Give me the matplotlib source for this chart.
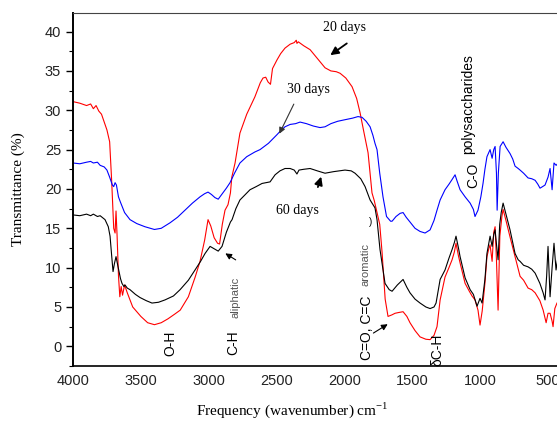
import matplotlib
matplotlib.use("Agg")
import matplotlib.pyplot as plt
import numpy as np

# FTIR spectra: wavenumber (cm-1) and transmittance (%)
wn_20 = [4000, 3950, 3900, 3870, 3850, 3830, 3810, 3790, 3770, 3750, 3730, 3715, 3700,
         3690, 3683, 3675, 3665, 3655, 3645, 3635, 3620, 3600, 3560, 3500, 3450, 3400,
         3350, 3300, 3250, 3210, 3150, 3100, 3064, 3030, 3005, 2985, 2960, 2935, 2920,
         2900, 2880, 2858, 2840, 2830, 2806, 2770, 2720, 2660, 2620, 2600, 2580, 2563,
         2545, 2530, 2497, 2470, 2438, 2400, 2370, 2355, 2350, 2340, 2300, 2253, 2200,
         2143, 2100, 2060, 2032, 1990, 1944, 1910, 1885, 1860, 1826, 1797, 1780, 1760,
         1740, 1723, 1700, 1679, 1650, 1627, 1600, 1568, 1540, 1517, 1480, 1443, 1400,
         1369, 1340, 1318, 1295, 1259, 1230, 1207, 1190, 1178, 1160, 1148, 1111, 1080,
         1060, 1038, 1016, 1001, 985, 965, 950, 935, 927, 912, 900, 890, 880, 868, 855,
         840, 831, 810, 780, 743, 706, 680, 647, 620, 595, 560, 536, 514, 500, 485, 470,
         463, 450, 434]
t_20 = [31.1, 30.9, 30.6, 30.8, 30.2, 30.6, 29.9, 29.5, 28.5, 27.5, 26.0, 21.0, 15.0,
        14.4, 17.2, 14.0, 9.0, 6.3, 7.6, 6.5, 7.8, 6.8, 5.0, 3.8, 3.0, 2.75,
        3.0, 3.5, 4.1, 4.6, 6.3, 8.8, 10.8, 13.5, 16.1, 15.3, 13.8, 13.1, 13.0,
        15.5, 17.3, 18.0, 19.5, 21.5, 23.3, 27.1, 29.5, 31.7, 33.5, 34.1, 34.2, 33.6,
        33.3, 35.3, 36.4, 37.2, 37.9, 38.4, 38.6, 38.9, 38.5, 38.7, 38.2, 37.7, 36.6,
        35.4, 35.0, 34.9, 34.7, 34.1, 33.0, 31.5, 29.7, 27.5, 24.6, 19.5, 18.5, 17.0,
        15.5, 12.0, 6.0, 3.8, 4.0, 4.2, 4.3, 4.4, 3.8, 3.0, 2.0, 1.2, 0.9,
        0.85, 1.4, 2.5, 5.9, 8.8, 10.0, 11.0, 12.0, 13.1, 11.5, 10.6, 8.0, 7.0,
        6.4, 5.9, 4.6, 2.7, 4.5, 8.0, 11.4, 12.5, 12.9, 10.8, 14.5, 15.2, 11.0, 4.6, 14.0,
        16.5, 17.4, 16.0, 13.9, 11.4, 8.9, 8.4, 7.4, 7.2, 6.8, 5.8, 4.6, 3.0, 4.2, 4.2, 3.2,
        2.5, 4.8, 5.5]

wn_30 = [4000, 3950, 3900, 3870, 3850, 3820, 3800, 3770, 3750, 3730, 3710, 3700, 3690,
         3680, 3665, 3650, 3620, 3580, 3530, 3470, 3400, 3350, 3285, 3230, 3175, 3120,
         3064, 3030, 3005, 2980, 2954, 2930, 2900, 2870, 2843, 2810, 2770, 2720, 2660,
         2622, 2560, 2497, 2470, 2438, 2400, 2360, 2327, 2280, 2230, 2180, 2143, 2100,
         2050, 1996, 1940, 1900, 1870, 1840, 1811, 1790, 1775, 1760, 1740, 1716, 1690,
         1660, 1649, 1620, 1590, 1568, 1545, 1517, 1480, 1443, 1406, 1369, 1340, 1318,
         1295, 1259, 1230, 1207, 1185, 1170, 1148, 1111, 1074, 1050, 1038, 1016, 995,
         979, 965, 950, 927, 912, 900, 890, 880, 875, 866, 853, 831, 810, 780, 760, 743,
         720, 706, 680, 647, 620, 595, 575, 559, 540, 522, 500, 485, 470, 456, 440, 430]
t_30 = [23.3, 23.2, 23.4, 23.5, 23.3, 23.4, 23.0, 22.8, 22.4, 21.5, 20.5, 20.3, 20.8,
        20.5, 19.0, 18.3, 17.0, 16.1, 15.6, 15.2, 14.85, 15.0, 15.7, 16.4, 17.3, 18.2,
        19.0, 19.4, 19.6, 19.3, 18.9, 18.7, 19.4, 20.1, 20.8, 22.0, 23.3, 24.1, 24.7,
        25.0, 25.8, 26.9, 27.4, 27.9, 28.2, 28.3, 28.5, 28.3, 28.0, 27.8, 27.9, 28.3,
        28.6, 28.8, 29.0, 29.2, 29.1, 28.6, 27.9, 26.8, 25.8, 25.0, 22.0, 19.0, 16.5,
        15.9, 15.9, 16.5, 16.9, 17.0, 16.4, 15.8, 15.0, 14.6, 14.4, 14.8, 16.0, 17.3,
        18.6, 19.9, 20.6, 21.2, 21.8, 21.0, 19.9, 19.0, 18.2, 17.4, 16.5, 17.3, 19.0,
        20.7, 22.5, 24.1, 25.0, 23.9, 25.0, 25.4, 22.0, 17.3, 22.0, 25.4, 26.0, 25.3, 24.5, 23.8, 22.9,
        22.6, 22.4, 22.0, 21.4, 21.3, 21.1, 20.6, 20.1, 20.3, 20.5, 21.5, 22.6, 19.9, 23.3, 23.0, 23.2]

wn_60 = [4000, 3950, 3900, 3870, 3850, 3820, 3800, 3764, 3740, 3727, 3715, 3705, 3695,
         3683, 3668, 3650, 3639, 3625, 3617, 3600, 3580, 3540, 3506, 3460, 3418, 3370,
         3322, 3260, 3211, 3150, 3101, 3060, 3027, 2990, 2960, 2930, 2902, 2870, 2840,
         2828, 2800, 2770, 2730, 2696, 2650, 2607, 2548, 2511, 2475, 2438, 2400, 2370,
         2350, 2335, 2300, 2253, 2200, 2143, 2080, 1996, 1950, 1922, 1880, 1848, 1811,
         1775, 1760, 1738, 1701, 1670, 1649, 1610, 1568, 1540, 1517, 1480, 1443, 1400,
         1369, 1340, 1325, 1295, 1259, 1230, 1207, 1190, 1178, 1160, 1148, 1111, 1074,
         1050, 1023, 1001, 986, 965, 950, 927, 912, 900, 890, 880, 868, 856, 845, 831,
         810, 780, 743, 720, 706, 680, 647, 620, 595, 560, 536, 522, 510, 500, 485, 470,
         456, 441, 430]
t_60 = [16.7, 16.6, 16.8, 16.6, 16.8, 16.5, 16.6, 16.1, 15.2, 14.0, 11.5, 9.5, 10.5,
        11.4, 10.1, 8.6, 8.0, 7.6, 7.8, 7.4, 7.2, 6.6, 6.2, 5.8, 5.5, 5.6,
        5.9, 6.4, 7.2, 8.4, 9.7, 10.8, 11.8, 12.7, 12.4, 12.1, 12.7, 14.5, 15.8,
        16.1, 17.5, 18.6, 19.3, 19.9, 20.3, 20.7, 20.9, 21.8, 22.3, 22.6, 22.6, 22.4,
        21.9, 22.4, 22.5, 22.6, 22.3, 22.0, 22.2, 22.4, 22.3, 22.0, 21.3, 20.3, 18.6,
        17.6, 16.1, 12.3, 8.0, 7.2, 7.0, 7.8, 8.5, 7.5, 6.8, 6.0, 5.5, 5.0,
        4.8, 5.0, 5.5, 8.5, 9.7, 11.2, 12.3, 13.2, 14.0, 12.5, 11.4, 8.7, 7.2,
        6.6, 5.1, 6.1, 5.5, 8.5, 11.8, 14.0, 12.7, 14.2, 14.8, 13.0, 11.0, 15.5, 17.0, 18.2,
        16.8, 14.8, 11.8, 11.0, 10.8, 10.3, 10.1, 9.8, 9.3, 8.0, 6.8, 5.9, 9.0, 12.7, 6.3, 10.0,
        13.1, 9.7, 11.0]

x_ticks = [4000, 3500, 3000, 2500, 2000, 1500, 1000, 500]
y_ticks = [0, 5, 10, 15, 20, 25, 30, 35, 40]

sans = "Liberation Sans"
serif = "Liberation Serif"

fig = plt.figure(figsize=(5.57, 4.21), dpi=100)
# the axes run slightly past the right edge, as in the cropped original
ax = fig.add_axes([73 / 557, 55 / 421, 488.6 / 557, 353.3 / 421])

ax.plot(wn_20, t_20, color="#ff0000", lw=0.8)
ax.plot(wn_30, t_30, color="#0000ff", lw=0.8)
ax.plot(wn_60, t_60, color="black", lw=0.8)

ax.set_xlim(4000, 400)
ax.set_ylim(-2.5, 42.4)
ax.set_xticks(x_ticks)
ax.set_yticks(y_ticks)
ax.set_yticks(np.arange(-2.5, 42.5, 5), minor=True)
ax.tick_params(axis="x", length=0, pad=6, labelsize=10.5, labelcolor="#222222")
ax.tick_params(axis="y", which="major", direction="out", length=5, width=1,
               labelsize=10.5, labelcolor="#222222")
ax.tick_params(axis="y", which="minor", direction="out", length=3, width=0.8)
for lab in ax.get_xticklabels() + ax.get_yticklabels():
    lab.set_family(sans)

ax.spines["left"].set_linewidth(1.4)
ax.spines["bottom"].set_linewidth(1.2)
ax.spines["top"].set_linewidth(0.8)
ax.spines["top"].set_color("#444444")
ax.spines["right"].set_visible(False)

fig.text(18 / 557, 1 - 189 / 421, "Transmittance (%)", rotation=90, ha="center",
         va="center", family=serif, fontsize=11)
fig.text(292 / 557, 1 - 410 / 421, "Frequency (wavenumber) cm$^{\\mathregular{-1}}$",
         ha="center", va="center", family=serif, fontsize=11)

# sample labels with arrows
arrow_kw = dict(arrowstyle="-|>", color="black", lw=1.3, mutation_scale=12)
ax.text(1996, 40.5, "20 days", ha="center", va="center", family=serif, fontsize=10)
ax.annotate("", xy=(2121, 36.8), xytext=(1966, 38.7), arrowprops=arrow_kw)
ax.text(2268, 32.6, "30 days", ha="center", va="center", family=serif, fontsize=10)
ax.annotate("", xy=(2489, 26.7), xytext=(2364, 31.1),
            arrowprops=dict(arrowstyle="-|>", color="#333333", lw=0.8, mutation_scale=9))
ax.text(2349, 17.2, "60 days", ha="center", va="center", family=serif, fontsize=10)
ax.annotate("", xy=(2165, 21.9), xytext=(2202, 19.9), arrowprops=arrow_kw)

# band assignments
ax.text(3285, 0.4, "O-H", rotation=90, ha="center", va="center", family=sans, fontsize=10)
ax.text(2821, 0.5, "C-H", rotation=90, ha="center", va="center", family=sans, fontsize=10)
ax.text(2806, 6.2, "aliphatic", rotation=90, ha="center", va="center", family=sans,
        fontsize=8, color="#555555")
ax.annotate("", xy=(2895, 12.0), xytext=(2784, 10.8),
            arrowprops=dict(arrowstyle="-|>", color="black", lw=0.8, mutation_scale=9))
ax.text(1834, 2.4, "C=O, C=C", rotation=90, ha="center", va="center", family=sans,
        fontsize=10)
ax.text(1848, 10.4, "aromatic", rotation=90, ha="center", va="center", family=sans,
        fontsize=8, color="#555555")
ax.annotate("", xy=(1664, 3.0), xytext=(1804, 1.5),
            arrowprops=dict(arrowstyle="-|>", color="black", lw=0.8, mutation_scale=9))
ax.text(1811, 15.8, ")", ha="center", va="center", family=sans, fontsize=7)
ax.text(1318, -0.4, "\u03b4C-H", rotation=90, ha="center", va="center", family=sans,
        fontsize=10)
ax.text(1052, 21.7, "C-O", rotation=90, ha="center", va="center", family=sans, fontsize=10)
ax.text(1089, 30.8, "polysaccharides", rotation=90, ha="center", va="center",
        family=sans, fontsize=10)

fig.savefig("out.png", dpi=100)
